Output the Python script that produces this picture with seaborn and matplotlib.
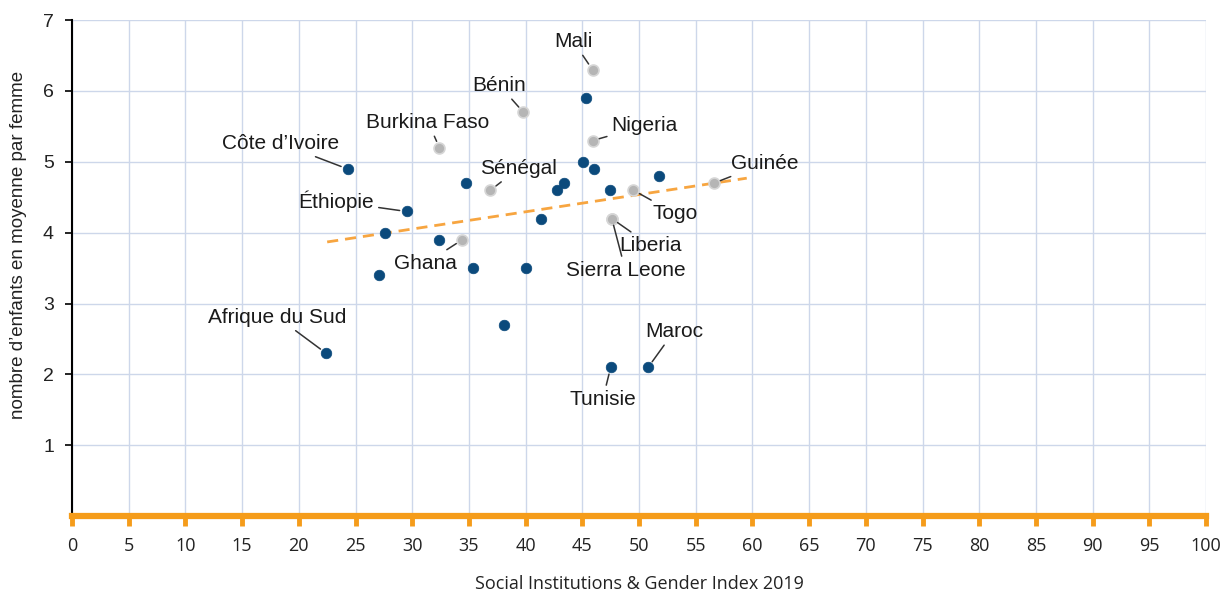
import pandas as pd
import matplotlib.pyplot as plt
import seaborn as sns

# --- data ---
countries = ['Côte d’Ivoire', 'Éthiopie', '', '', '', '', '', '', '', '', '', '', '', '', '', '', '',
             'Afrique du Sud', 'Tunisie', 'Maroc',
             'Mali', 'Bénin', 'Burkina Faso', 'Nigeria', 'Sénégal', 'Ghana', 'Togo',
             'Liberia', 'Sierra Leone', 'Guinée']
sigi = [24.3, 29.5, 27.6, 27.1, 32.4, 34.7, 35.4, 38.1, 40.0, 41.4, 42.8, 43.4, 45.3, 45.1, 46.0, 47.4, 51.8,
        22.4, 47.5, 50.8,
        45.9, 39.8, 32.4, 45.9, 36.9, 34.4, 49.5,
        47.6, 47.6, 56.6]
fertility = [4.9, 4.3, 4.0, 3.4, 3.9, 4.7, 3.5, 2.7, 3.5, 4.2, 4.6, 4.7, 5.9, 5.0, 4.9, 4.6, 4.8,
             2.3, 2.1, 2.1,
             6.3, 5.7, 5.2, 5.3, 4.6, 3.9, 4.6,
             4.2, 4.2, 4.7]
group = ['a'] * 20 + ['b'] * 10

trend_x = [22.5, 59.5]
trend_y = [3.87, 4.77]

df = pd.DataFrame({'country': countries, 'sigi': sigi, 'fert': fertility, 'group': group})

# label placement (data units), only for layout
label_pos = {
    'Côte d’Ivoire': (18.4, 5.26), 'Éthiopie': (23.3, 4.44), 'Afrique du Sud': (18.1, 2.81),
    'Tunisie': (46.8, 1.65), 'Maroc': (53.1, 2.61), 'Mali': (44.2, 6.70), 'Bénin': (37.7, 6.08),
    'Burkina Faso': (31.4, 5.56), 'Nigeria': (50.5, 5.51), 'Sénégal': (39.4, 4.91),
    'Ghana': (31.2, 3.57), 'Togo': (53.2, 4.27), 'Liberia': (51.0, 3.82),
    'Sierra Leone': (48.8, 3.47), 'Guinée': (61.1, 4.98),
}

sns.set_style("white")
plt.rcParams['font.family'] = ['Liberation Sans', 'DejaVu Sans']

orange = '#f59c1a'
fig = plt.figure(figsize=(12.25, 5.92), dpi=100)
ax = fig.add_axes([0.0588, 0.128, 0.9257, 0.838])

ax.plot(trend_x, trend_y, color='#f7a540', lw=2, dashes=(4, 2.5), zorder=2)

sns.scatterplot(data=df[df.group == 'b'], x='sigi', y='fert', ax=ax, s=62,
                color='#b5b5b5', edgecolor='#d6d6d6', linewidth=1.2, zorder=3)
sns.scatterplot(data=df[df.group == 'a'], x='sigi', y='fert', ax=ax, s=58,
                color='#0b4a7c', edgecolor='#0b4a7c', linewidth=0.5, zorder=4)

for _, r in df[df.country != ''].iterrows():
    tx, ty = label_pos[r.country]
    ax.annotate(r.country, xy=(r.sigi, r.fert), xytext=(tx, ty), ha='center', va='center',
                fontsize=15, color='#1a1a1a',
                arrowprops=dict(arrowstyle='-', color='#333333', lw=1.1, shrinkA=1, shrinkB=5))

ax.set_xlim(0, 100)
ax.set_ylim(0, 7)
ax.set_xticks(range(0, 101, 5))
ax.set_yticks(range(1, 8))
ax.grid(True, color='#cdd7ea', lw=1)
ax.set_axisbelow(True)

for s in ['top', 'right']:
    ax.spines[s].set_visible(False)
ax.spines['left'].set_color('black')
ax.spines['left'].set_linewidth(1.5)
ax.spines['bottom'].set_color(orange)
ax.spines['bottom'].set_linewidth(4.5)
ax.spines['bottom'].set_zorder(5)

ax.tick_params(axis='x', bottom=True, direction='out', length=7, width=3.5, color=orange, pad=8,
               labelsize=13, labelcolor='#222222')
ax.tick_params(axis='y', left=True, direction='out', length=5, width=1.2, color='black', pad=8,
               labelsize=14, labelcolor='#222222')
for lbl in ax.get_xticklabels():
    lbl.set_family(['Open Sans', 'DejaVu Sans'])

ax.set_xlabel('Social Institutions & Gender Index 2019', fontsize=13, family=['Open Sans', 'DejaVu Sans'],
              color='#222222', labelpad=14)
ax.set_ylabel('nombre d’enfants en moyenne par femme', fontsize=13.5, color='#222222')
ax.yaxis.set_label_coords(-0.04, 0.546)

fig.savefig('out.png', dpi=100)
